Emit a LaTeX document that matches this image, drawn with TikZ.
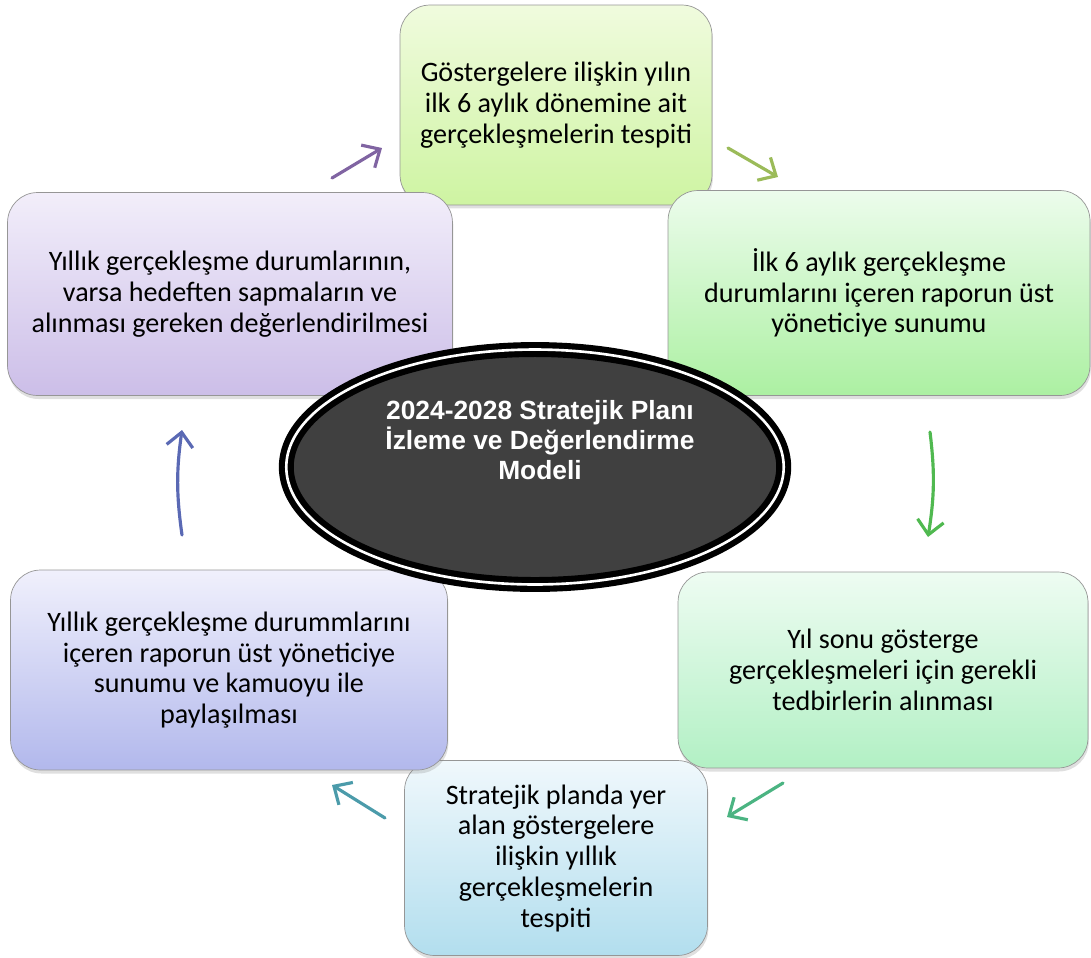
\documentclass[tikz,border=0pt]{standalone}
\usepackage{fontspec}
\setmainfont{Carlito}
\newfontfamily\titlefont{Liberation Sans}
\usetikzlibrary{arrows.meta,shapes,positioning,shadows}
\definecolor{boxgray}{RGB}{150,150,150}
\definecolor{ellgray}{RGB}{64,64,64}
\definecolor{tespittop}{RGB}{240,251,222}
\definecolor{tespitbot}{RGB}{206,244,162}
\definecolor{sunumtop}{RGB}{236,252,236}
\definecolor{sunumbot}{RGB}{172,240,162}
\definecolor{tedbirtop}{RGB}{238,252,242}
\definecolor{tedbirbot}{RGB}{178,240,196}
\definecolor{yilliktop}{RGB}{240,248,252}
\definecolor{yillikbot}{RGB}{178,222,238}
\definecolor{paylastop}{RGB}{240,240,252}
\definecolor{paylasbot}{RGB}{178,184,236}
\definecolor{degertop}{RGB}{242,238,250}
\definecolor{degerbot}{RGB}{204,190,232}
\definecolor{arrpurple}{RGB}{128,100,162}
\definecolor{arrlime}{RGB}{155,187,89}
\definecolor{arrgreen}{RGB}{80,185,80}
\definecolor{arrmint}{RGB}{75,180,130}
\definecolor{arrteal}{RGB}{75,155,170}
\definecolor{arrblue}{RGB}{90,105,180}
\tikzstyle{box} = [draw=boxgray, rounded corners=0.6cm, align=center, font=\fontsize{16}{17.5}\selectfont, drop shadow={shadow xshift=0.5pt, shadow yshift=-2pt, opacity=0.25}]
\tikzstyle{arrow} = [line width=1.8pt, line cap=round, -{Straight Barb[length=8pt,width=15pt]}]

\begin{document}
\begin{tikzpicture}[x=0.02cm, y=-0.02cm]
\useasboundingbox (0,0) rectangle (1091,957);

\node[box, top color=tespittop, bottom color=tespitbot, minimum width=6.24cm, minimum height=4cm] (tespit) at (556,105) {Göstergelere ilişkin yılın\\ilk 6 aylık dönemine ait\\gerçekleşmelerin tespiti};
\node[box, top color=sunumtop, bottom color=sunumbot, minimum width=8.44cm, minimum height=4.1cm] (sunum) at (879,293) {İlk 6 aylık gerçekleşme\\durumlarını içeren raporun üst\\yöneticiye sunumu};
\node[box, top color=tedbirtop, bottom color=tedbirbot, minimum width=8.2cm, minimum height=3.92cm] (tedbir) at (883,670) {Yıl sonu gösterge\\gerçekleşmeleri için gerekli\\tedbirlerin alınması};
\node[box, top color=yilliktop, bottom color=yillikbot, minimum width=6.06cm, minimum height=3.9cm] (yillik) at (556,858) {Stratejik planda yer\\alan göstergelere\\ilişkin yıllık\\gerçekleşmelerin\\tespiti};
\node[box, top color=paylastop, bottom color=paylasbot, minimum width=8.74cm, minimum height=4cm] (paylas) at (229,670) {Yıllık gerçekleşme durummlarını\\içeren raporun üst yöneticiye\\sunumu ve kamuoyu ile\\paylaşılması};
\node[box, top color=degertop, bottom color=degerbot, minimum width=8.9cm, minimum height=4.06cm] (degerlendir) at (230,294) {Yıllık gerçekleşme durumlarının,\\varsa hedeften sapmaların ve\\alınması gereken değerlendirilmesi};

\node[ellipse, draw=black, line width=3.5pt, double=white, double distance=1.5pt, fill=ellgray, minimum width=9.95cm, minimum height=4.7cm] (model) at (535,467) {};
\node[text=white, align=center, font=\titlefont\bfseries\fontsize{15}{17}\selectfont] (baslik) at (540,440) {2024-2028 Stratejik Planı\\İzleme ve Değerlendirme\\Modeli};

\coordinate (p1) at (332,178); \coordinate (p2) at (382,148);
\coordinate (l1) at (728,148); \coordinate (l2) at (778,177);
\coordinate (g1) at (930,432); \coordinate (g2) at (928,537);
\coordinate (m1) at (783,783); \coordinate (m2) at (727,817);
\coordinate (t1) at (385,818); \coordinate (t2) at (332,785);
\coordinate (b1) at (182,535); \coordinate (b2) at (182,430);

\draw[arrow, arrpurple] (p1) -- (p2);
\draw[arrow, arrlime] (l1) -- (l2);
\draw[arrow, arrgreen] (g1) to[bend left=8] (g2);
\draw[arrow, arrmint] (m1) -- (m2);
\draw[arrow, arrteal] (t1) -- (t2);
\draw[arrow, arrblue] (b1) to[bend left=8] (b2);
\end{tikzpicture}
\end{document}
